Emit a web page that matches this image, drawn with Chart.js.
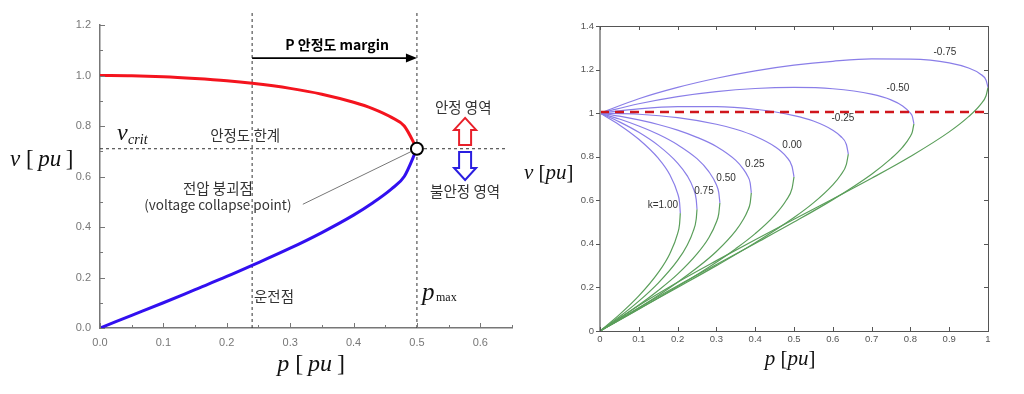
<!DOCTYPE html>
<html>
<head>
<meta charset="utf-8">
<script src="https://cdn.jsdelivr.net/npm/chart.js@4.4.0/dist/chart.umd.min.js"></script>
<style>
body { margin: 0; background: #fff; width: 1024px; height: 394px; overflow: hidden; position: relative; }
#left { position: absolute; left: 0; top: 0; }
#right { position: absolute; left: 520px; top: 0; }
</style>
</head>
<body>
<canvas id="left" width="520" height="394"></canvas>
<canvas id="right" width="504" height="394"></canvas>
<script>
// ---- left chart: single PV curve ----
pCurve = [0, 0.05, 0.1, 0.15, 0.2, 0.24, 0.3, 0.35, 0.4, 0.43, 0.46, 0.48, 0.5];
vStable = [1.0, 0.999, 0.995, 0.988, 0.979, 0.969, 0.949, 0.926, 0.894, 0.869, 0.834, 0.8, 0.71];
vUnstable = [0, 0.05, 0.1, 0.152, 0.204, 0.248, 0.316, 0.378, 0.447, 0.495, 0.551, 0.6, 0.71];
pOperating = 0.24;
pMax = 0.5;
vCrit = 0.71;
pTicksLeft = [0, 0.1, 0.2, 0.3, 0.4, 0.5, 0.6];
vTicksLeft = [0, 0.2, 0.4, 0.6, 0.8, 1.0, 1.2];

// ---- right chart: family of PV curves for k ----
kLabels = ["-0.75", "-0.50", "-0.25", "0.00", "0.25", "0.50", "0.75", "k=1.00"];

p_m75 = [0, 0.1, 0.2, 0.3, 0.4, 0.5, 0.6, 0.7, 0.8, 0.9, 0.95, 0.98, 0.995, 1.0];
hi_m75 = [1, 1.066, 1.118, 1.160, 1.194, 1.220, 1.238, 1.249, 1.248, 1.231, 1.207, 1.180, 1.151, 1.118];
lo_m75 = [0, 0.117, 0.224, 0.323, 0.419, 0.513, 0.606, 0.701, 0.801, 0.914, 0.984, 1.038, 1.080, 1.118];

p_m50 = [0, 0.1, 0.2, 0.3, 0.4, 0.5, 0.6, 0.7, 0.75, 0.78, 0.8, 0.805, 0.809];
hi_m50 = [1, 1.043, 1.076, 1.099, 1.113, 1.118, 1.112, 1.087, 1.061, 1.033, 1.0, 0.985, 0.951];
lo_m50 = [0, 0.107, 0.208, 0.305, 0.402, 0.5, 0.603, 0.720, 0.791, 0.844, 0.894, 0.914, 0.951];

p_m25 = [0, 0.1, 0.2, 0.3, 0.4, 0.5, 0.55, 0.6, 0.62, 0.635, 0.640];
hi_m25 = [1, 1.020, 1.030, 1.030, 1.018, 0.989, 0.964, 0.922, 0.894, 0.856, 0.812];
lo_m25 = [0, 0.101, 0.200, 0.300, 0.405, 0.521, 0.588, 0.671, 0.715, 0.765, 0.812];

p_0 = [0, 0.1, 0.2, 0.3, 0.35, 0.4, 0.45, 0.48, 0.495, 0.5];
hi_0 = [1, 0.995, 0.979, 0.949, 0.926, 0.894, 0.847, 0.8, 0.755, 0.707];
lo_0 = [0, 0.100, 0.204, 0.316, 0.378, 0.447, 0.531, 0.6, 0.655, 0.707];

p_25 = [0, 0.05, 0.1, 0.15, 0.2, 0.25, 0.3, 0.35, 0.37, 0.38, 0.387, 0.390];
hi_25 = [1, 0.986, 0.969, 0.948, 0.922, 0.889, 0.847, 0.783, 0.742, 0.713, 0.680, 0.634];
lo_25 = [0, 0.052, 0.106, 0.163, 0.224, 0.290, 0.365, 0.461, 0.514, 0.550, 0.587, 0.634];

p_50 = [0, 0.05, 0.1, 0.15, 0.2, 0.25, 0.28, 0.3, 0.306, 0.309];
hi_50 = [1, 0.973, 0.941, 0.903, 0.855, 0.791, 0.733, 0.671, 0.636, 0.588];
lo_50 = [0, 0.057, 0.119, 0.186, 0.261, 0.354, 0.427, 0.5, 0.538, 0.588];

p_75 = [0, 0.05, 0.1, 0.15, 0.2, 0.225, 0.24, 0.248, 0.25];
hi_75 = [1, 0.960, 0.912, 0.852, 0.771, 0.712, 0.657, 0.603, 0.559];
lo_75 = [0, 0.065, 0.137, 0.220, 0.324, 0.395, 0.457, 0.514, 0.559];

p_100 = [0, 0.05, 0.1, 0.15, 0.18, 0.2, 0.205, 0.207];
hi_100 = [1, 0.946, 0.880, 0.793, 0.717, 0.632, 0.591, 0.541];
lo_100 = [0, 0.075, 0.161, 0.268, 0.355, 0.447, 0.490, 0.541];

refP = [0, 1];
refV = [1.005, 1.005];
pTicksRight = [0, 0.1, 0.2, 0.3, 0.4, 0.5, 0.6, 0.7, 0.8, 0.9, 1];
vTicksRight = [0, 0.2, 0.4, 0.6, 0.8, 1.0, 1.2, 1.4];

var curvesP = [p_m75, p_m50, p_m25, p_0, p_25, p_50, p_75, p_100];
var curvesHi = [hi_m75, hi_m50, hi_m25, hi_0, hi_25, hi_50, hi_75, hi_100];
var curvesLo = [lo_m75, lo_m50, lo_m25, lo_0, lo_25, lo_50, lo_75, lo_100];
// where each k label sits (data coords)
var kLabelPos = [[0.889, 1.28], [0.768, 1.115], [0.626, 0.977], [0.495, 0.853],
                 [0.399, 0.766], [0.325, 0.702], [0.268, 0.642], [0.162, 0.578]];

function pts(xs, ys) {
    return xs.map(function (x, i) { return {x: x, y: ys[i]}; });
}

function mathText(ctx, parts, x, y, size, align) {
    var w = 0;
    parts.forEach(function (pt) {
        ctx.font = (pt[1] ? 'italic ' : '') + size + 'px "Liberation Serif"';
        w += ctx.measureText(pt[0]).width;
    });
    var cx = align === 'center' ? x - w / 2 : x;
    ctx.textAlign = 'left';
    ctx.textBaseline = 'alphabetic';
    parts.forEach(function (pt) {
        ctx.font = (pt[1] ? 'italic ' : '') + size + 'px "Liberation Serif"';
        ctx.fillText(pt[0], cx, y);
        cx += ctx.measureText(pt[0]).width;
    });
}

var KR = '"Noto Sans CJK KR", "Noto Sans", sans-serif';

var leftDecor = {
    id: 'leftDecor',
    afterDraw: function (chart) {
        var ctx = chart.ctx, xs = chart.scales.x, ys = chart.scales.y, a = chart.chartArea;
        ctx.save();
        // inward ticks
        ctx.strokeStyle = '#777';
        ctx.lineWidth = 1;
        for (var v = 0; v <= 0.6501; v += 0.05) {
            var px = Math.round(xs.getPixelForValue(v)) + 0.5;
            var len = Math.abs(v * 10 - Math.round(v * 10)) < 1e-6 ? 5 : 3;
            ctx.beginPath(); ctx.moveTo(px, a.bottom); ctx.lineTo(px, a.bottom - len); ctx.stroke();
        }
        for (var w = 0; w <= 1.2001; w += 0.1) {
            var py = Math.round(ys.getPixelForValue(w)) + 0.5;
            var l2 = Math.abs(w * 5 - Math.round(w * 5)) < 1e-6 ? 5 : 3;
            ctx.beginPath(); ctx.moveTo(a.left, py); ctx.lineTo(a.left + l2, py); ctx.stroke();
        }

        // margin arrow
        var ya = ys.getPixelForValue(1.069);
        var x0 = xs.getPixelForValue(pOperating), x1 = xs.getPixelForValue(pMax);
        ctx.strokeStyle = '#000';
        ctx.fillStyle = '#000';
        ctx.lineWidth = 1.6;
        ctx.beginPath(); ctx.moveTo(x0, ya); ctx.lineTo(x1 - 8, ya); ctx.stroke();
        ctx.beginPath(); ctx.moveTo(x1, ya); ctx.lineTo(x1 - 11, ya - 4.5); ctx.lineTo(x1 - 11, ya + 4.5); ctx.closePath(); ctx.fill();

        // hollow arrows
        var cx = xs.getPixelForValue(0.576);
        function hollow(tipV, baseV, dir, color) {
            var tip = ys.getPixelForValue(tipV), base = ys.getPixelForValue(baseV);
            var head = tip + dir * 12;
            ctx.beginPath();
            ctx.moveTo(cx, tip);
            ctx.lineTo(cx + 11, head);
            ctx.lineTo(cx + 6, head);
            ctx.lineTo(cx + 6, base);
            ctx.lineTo(cx - 6, base);
            ctx.lineTo(cx - 6, head);
            ctx.lineTo(cx - 11, head);
            ctx.closePath();
            ctx.strokeStyle = color;
            ctx.lineWidth = 2;
            ctx.stroke();
        }
        hollow(0.832, 0.725, 1, '#e8202a');
        hollow(0.586, 0.697, -1, '#2a1ee0');

        // korean notes
        ctx.fillStyle = '#000';
        ctx.textAlign = 'center';
        ctx.textBaseline = 'middle';
        ctx.font = 'bold 14px ' + KR;
        ctx.fillText('P 안정도 margin', xs.getPixelForValue(0.374), ys.getPixelForValue(1.121));
        ctx.fillStyle = '#333';
        ctx.font = '14.5px ' + KR;
        ctx.fillText('안정 영역', xs.getPixelForValue(0.573), ys.getPixelForValue(0.875));
        ctx.fillText('불안정 영역', xs.getPixelForValue(0.576), ys.getPixelForValue(0.539));
        ctx.fillText('안정도 한계', xs.getPixelForValue(0.229), ys.getPixelForValue(0.764));
        ctx.fillText('전압 붕괴점', xs.getPixelForValue(0.186), ys.getPixelForValue(0.554));
        ctx.font = '13.5px ' + KR;
        ctx.fillText('(voltage collapse point)', xs.getPixelForValue(0.186), ys.getPixelForValue(0.487));
        ctx.textAlign = 'left';
        ctx.font = '14.5px ' + KR;
        ctx.fillText('운전점', xs.getPixelForValue(0.243), ys.getPixelForValue(0.123));

        // math labels
        ctx.fillStyle = '#111';
        var vcx = xs.getPixelForValue(0.027), vcy = ys.getPixelForValue(0.745);
        mathText(ctx, [['v', true]], vcx, vcy, 24, 'left');
        mathText(ctx, [['crit', true]], vcx + 11, vcy + 4, 14, 'left');
        var pmx = xs.getPixelForValue(0.508), pmy = ys.getPixelForValue(0.11);
        mathText(ctx, [['p', true]], pmx, pmy, 25, 'left');
        mathText(ctx, [['max', false]], pmx + 14, pmy + 1, 12, 'left');

        // axis titles
        mathText(ctx, [['v', true], [' [\u2009', false], ['pu', true], ['\u2009]', false]], 10, ys.getPixelForValue(0.64), 23, 'left');
        mathText(ctx, [['p', true], [' [\u2009', false], ['pu', true], ['\u2009]', false]], xs.getPixelForValue(0.333), a.bottom + 43, 24, 'center');
        ctx.restore();
    }
};

new Chart(document.getElementById('left'), {
    type: 'line',
    data: {
        datasets: [
            {data: [{x: pMax, y: vCrit}], borderColor: '#000', backgroundColor: '#fff', pointRadius: 6,
             pointBorderWidth: 2, showLine: false, order: 0},
            {data: pts(pCurve, vStable), borderColor: '#f4141e', borderWidth: 3, pointRadius: 0,
             cubicInterpolationMode: 'monotone', order: 1},
            {data: pts(pCurve, vUnstable), borderColor: '#3210f0', borderWidth: 3, pointRadius: 0,
             cubicInterpolationMode: 'monotone', order: 1},
            {data: pts([pMax, 0.32], [vCrit, 0.49]), borderColor: '#777', borderWidth: 1, pointRadius: 0, order: 2},
            {data: pts([pOperating, pOperating], [0, 1.25]), borderColor: '#333', borderWidth: 1,
             borderDash: [3, 3], pointRadius: 0, clip: false, order: 3},
            {data: pts([pMax, pMax], [0, 1.25]), borderColor: '#333', borderWidth: 1,
             borderDash: [3, 3], pointRadius: 0, clip: false, order: 3},
            {data: pts([0, 0.643], [vCrit, vCrit]), borderColor: '#333', borderWidth: 1,
             borderDash: [3, 3], pointRadius: 0, clip: false, order: 3}
        ]
    },
    options: {
        responsive: false,
        animation: false,
        layout: {padding: {left: 0, right: 8, top: 25, bottom: 0}},
        plugins: {legend: {display: false}, tooltip: {enabled: false}},
        scales: {
            x: {
                type: 'linear', min: 0, max: 0.65,
                grid: {display: false, drawTicks: false},
                border: {display: true, color: '#777', width: 1.5},
                ticks: {color: '#777', padding: 8, font: {family: 'Liberation Sans', size: 11},
                        callback: function (v) { return v.toFixed(1); }},
                afterBuildTicks: function (s) { s.ticks = pTicksLeft.map(function (v) { return {value: v}; }); },
                afterFit: function (s) { s.height = 66; }
            },
            y: {
                type: 'linear', min: 0, max: 1.2,
                grid: {display: false, drawTicks: false},
                border: {display: true, color: '#777', width: 1.5},
                ticks: {color: '#777', padding: 9, font: {family: 'Liberation Sans', size: 11},
                        callback: function (v) { return v.toFixed(1); }},
                afterBuildTicks: function (s) { s.ticks = vTicksLeft.map(function (v) { return {value: v}; }); },
                afterFit: function (s) { s.width = 100; }
            }
        }
    },
    plugins: [leftDecor]
});

var rightDecor = {
    id: 'rightDecor',
    afterDraw: function (chart) {
        var ctx = chart.ctx, xs = chart.scales.x, ys = chart.scales.y, a = chart.chartArea;
        ctx.save();
        ctx.strokeStyle = '#555';
        ctx.lineWidth = 1;
        ctx.strokeRect(Math.round(a.left) + 0.5, Math.round(a.top) + 0.5, Math.round(a.right - a.left), Math.round(a.bottom - a.top));
        ctx.strokeStyle = '#999';
        ctx.lineWidth = 2;
        ctx.beginPath(); ctx.moveTo(a.left, a.top); ctx.lineTo(a.left, a.bottom); ctx.stroke();
        ctx.strokeStyle = '#555';
        ctx.lineWidth = 1;
        pTicksRight.forEach(function (v) {
            var px = Math.round(xs.getPixelForValue(v)) + 0.5;
            ctx.beginPath(); ctx.moveTo(px, a.bottom); ctx.lineTo(px, a.bottom - 4); ctx.stroke();
            ctx.beginPath(); ctx.moveTo(px, a.top); ctx.lineTo(px, a.top + 4); ctx.stroke();
        });
        vTicksRight.forEach(function (v) {
            var py = Math.round(ys.getPixelForValue(v)) + 0.5;
            ctx.beginPath(); ctx.moveTo(a.left - 4, py); ctx.lineTo(a.left, py); ctx.stroke();
            ctx.beginPath(); ctx.moveTo(a.right, py); ctx.lineTo(a.right - 4, py); ctx.stroke();
        });
        // k labels
        ctx.fillStyle = '#333';
        ctx.font = '10px "Liberation Sans"';
        ctx.textAlign = 'center';
        ctx.textBaseline = 'middle';
        kLabels.forEach(function (t, i) {
            ctx.fillText(t, xs.getPixelForValue(kLabelPos[i][0]), ys.getPixelForValue(kLabelPos[i][1]));
        });
        ctx.fillStyle = '#111';
        mathText(ctx, [['v', true], [' [', false], ['pu', true], [']', false]], 4, ys.getPixelForValue(0.70), 21, 'left');
        mathText(ctx, [['p', true], [' [', false], ['pu', true], [']', false]], xs.getPixelForValue(0.49), a.bottom + 34, 21, 'center');
        ctx.restore();
    }
};

var rightSets = [];
curvesP.forEach(function (p, i) {
    rightSets.push({data: pts(p, curvesHi[i]), borderColor: '#8a7ee8', borderWidth: 1.2, pointRadius: 0,
                    cubicInterpolationMode: 'monotone', order: 2});
    rightSets.push({data: pts(p, curvesLo[i]), borderColor: '#5a9e5a', borderWidth: 1.2, pointRadius: 0,
                    cubicInterpolationMode: 'monotone', order: 2});
});
rightSets.push({data: pts(refP, refV), borderColor: '#d0161c', borderWidth: 2.5, borderDash: [9, 6],
                pointRadius: 0, order: 1});

new Chart(document.getElementById('right'), {
    type: 'line',
    data: {datasets: rightSets},
    options: {
        responsive: false,
        animation: false,
        layout: {padding: {left: 0, right: 36, top: 26, bottom: 0}},
        plugins: {legend: {display: false}, tooltip: {enabled: false}},
        scales: {
            x: {
                type: 'linear', min: 0, max: 1,
                grid: {display: false, drawTicks: false},
                border: {display: false},
                ticks: {color: '#555', padding: 3, font: {family: 'Liberation Sans', size: 9.5},
                        callback: function (v) { return String(+v.toFixed(1)); }},
                afterBuildTicks: function (s) { s.ticks = pTicksRight.map(function (v) { return {value: v}; }); },
                afterFit: function (s) { s.height = 63; }
            },
            y: {
                type: 'linear', min: 0, max: 1.4,
                grid: {display: false, drawTicks: false},
                border: {display: false},
                ticks: {color: '#555', padding: 6, font: {family: 'Liberation Sans', size: 9.5},
                        callback: function (v) { return String(+v.toFixed(1)); }},
                afterBuildTicks: function (s) { s.ticks = vTicksRight.map(function (v) { return {value: v}; }); },
                afterFit: function (s) { s.width = 80; }
            }
        }
    },
    plugins: [rightDecor]
});
</script>
</body>
</html>
